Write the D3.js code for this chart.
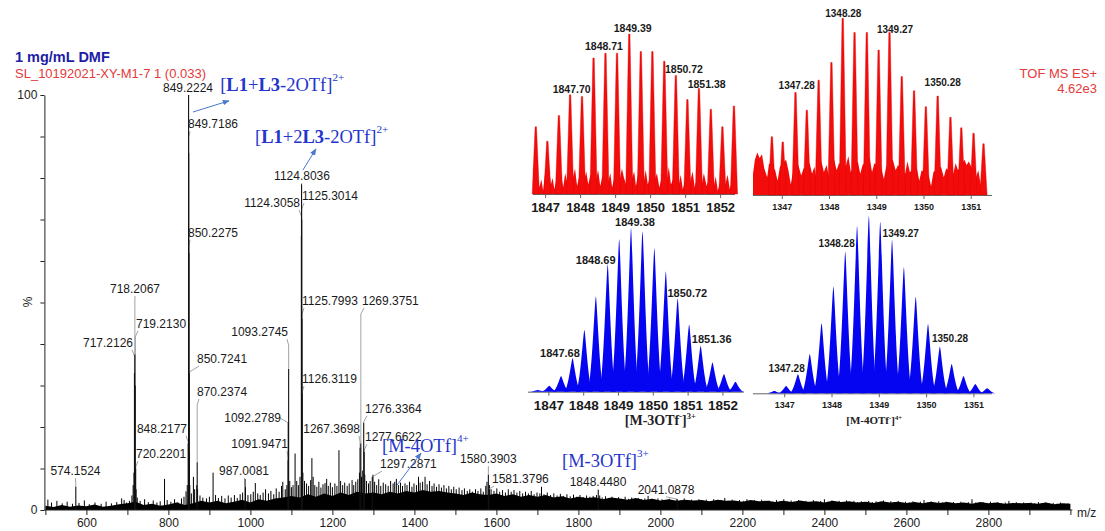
<!DOCTYPE html>
<html>
<head>
<meta charset="utf-8">
<script src="https://cdn.jsdelivr.net/npm/d3@7"></script>
<style>
  body { margin: 0; background: #fff; }
</style>
</head>
<body>
<svg id="chart" width="1105" height="531"></svg>
<script>
// ---- main spectrum data ----
const xLabelTicks = [600, 800, 1000, 1200, 1400, 1600, 1800, 2000, 2200, 2400, 2600, 2800];

// labelled peaks: m/z and relative intensity (%)
const peakMz = [574.1524, 717.2126, 718.2067, 719.2130, 720.2201, 848.2177, 849.2224, 849.7186, 850.2275,
  850.7241, 870.2374, 987.0081, 1091.9471, 1092.2789, 1093.2745, 1124.3058, 1124.8036, 1125.3014,
  1125.7993, 1126.3119, 1267.3698, 1269.3751, 1276.3364, 1277.6622, 1297.2871, 1580.3903, 1581.3796,
  1848.4480, 2041.0878];
const peakPct = [5.6, 33, 37.5, 30, 10, 16, 100, 86, 62, 33, 11.5, 7.5, 12, 21, 34, 66, 78.5, 70,
  46, 28, 15, 16, 21, 14, 8, 8.5, 5, 4.8, 2.6];

// unlabelled peaks [m/z, %]
const noisePeaks = [
  [506,2.5],[515,1.8],[528,2.2],[541,1.6],[553,2.0],[566,1.5],[582,1.7],[595,2.3],[607,1.4],[621,1.8],
  [636,1.5],[648,2.0],[661,1.6],[674,1.9],[686,2.8],[692,2.4],[698,1.8],[705,2.2],[711,3.5],[714,6],
  [716,9],[721.2,5],[724,3],[731,2.2],[742,2.6],[751,1.9],[763,2.3],[772,1.8],[780,2.1],[790.6,7.5],
  [797,2.4],[806,2],[815,2.6],[823,1.9],[832,2.8],[838,3.2],[843,4.5],[846,6],[851.2,14],[852.2,6],
  [856,4],[861,8],[864,5],[869.2,6],[871.2,5],[877,3.5],[884,3],[893,2.8],[900,3.2],[909,9],
  [915,3.6],[922,2.9],[930,3.4],[938,2.8],[946,3.5],[953,3],[961,3.6],[968,2.9],[975,3.8],[981,4.2],
  [988,5.5],[994,3.6],[1001,3.8],[1007,4.4],[1012,6.5],[1018,4],[1024,3.6],[1031,4.2],[1037,5],[1044,4],
  [1050,4.6],[1057,3.8],[1063,5.2],[1070,4.4],[1076,5.8],[1079,6.8],[1085,5],[1089,6],[1096,7],[1100,5.5],
  [1104,6],[1109,13.6],[1113,7],[1117,6],[1121,8],[1128,9],[1132,7],[1137,6.4],[1142,5.8],[1147,7.2],
  [1150,12.5],[1153,8],[1157,6],[1162,5.6],[1167,6.8],[1172,5.4],[1177,6.2],[1182,6.5],[1186,7.5],[1190,5.8],
  [1195,6.6],[1200,5.5],[1206,6.4],[1211,5.8],[1216,14.4],[1220,7],[1225,6],[1230,6.6],[1236,5.8],[1241,6.4],
  [1248,7.2],[1252,6],[1257,6.8],[1262,7.4],[1266,9],[1271,8],[1274,9.5],[1279,8.5],[1283,7],[1288,6.4],
  [1292,7],[1299,8.5],[1303,6.8],[1308,6],[1313,7.4],[1318,5.8],[1324,6.6],[1330,6.2],[1336,5.8],[1342,7],
  [1348,6.4],[1352,6.8],[1356,7.5],[1361,6],[1366,6.6],[1371,5.8],[1377,6.4],[1382,6],[1388,6.8],[1394,5.6],
  [1399,6.4],[1405,6],[1410,8],[1414,6.6],[1420,6.8],[1426,8],[1431,6.2],[1437,7],[1443,5.8],[1448,6.4],
  [1454,5.6],[1460,6.2],[1466,5.4],[1472,6],[1478,5.2],[1484,5.8],[1490,5],[1496,5.6],[1502,5],[1509,5.4],
  [1516,4.8],[1522,5.2],[1529,4.6],[1535,5],[1542,4.4],[1549,5],[1555,4.6],[1562,5.2],[1568,4.4],[1574,5.8],
  [1577,6.8],[1583,6],[1587,5],[1594,4.6],[1601,5.2],[1608,4.4],[1615,4.8],[1622,4.2],[1629,5],[1636,4.4],
  [1643,4.8],[1650,4.2],[1657,4.6],[1664,4],[1671,4.4],[1678,4],[1685,4.6],[1692,3.8],[1699,4.2],[1706,4],
  [1710,5.6],[1716,3.8],[1724,4.2],[1732,3.6],[1740,4],[1748,3.5],[1756,3.9],[1764,3.4],[1772,3.8],[1780,3.3],
  [1788,3.7],[1796,3.2],[1804,3.6],[1812,3.1],[1820,3.5],[1828,3.2],[1836,3.4],[1844,3.6],[1852,3.5],[1858,3],
  [1866,3.3],[1874,2.9],[1882,3.2],[1890,2.8],[1898,3.1],[1906,2.7],[1914,3.2],[1922,2.7],[1930,3],[1938,2.6],
  [1946,2.9],[1954,2.6],[1962,2.8],[1970,3.4],[1978,2.7],[1986,2.5],[1994,2.8],[2004,2.6],[2013,2.3],[2022,2.7],
  [2031,2.2],[2040,2.6],[2049,2.3],[2058,2.8],[2067,2.2],[2076,2.5],[2085,2.1],[2094,2.6],[2103,2.3],[2112,2.5],
  [2121,2.1],[2130,2.6],[2139,2.2],[2148,2.4],[2157,2.9],[2166,2.2],[2175,2.5],[2184,2.1],[2193,2.4],[2202,2.2],
  [2211,2.6],[2220,2.1],[2229,2.4],[2238,2.0],[2247,2.5],[2256,2.1],[2265,2.3],[2274,2.0],[2283,2.4],[2292,2.1],
  [2301,2.6],[2310,2.0],[2319,2.3],[2328,1.9],[2337,2.4],[2346,2.0],[2355,2.2],[2364,1.9],[2373,2.4],[2382,2.0],
  [2391,2.2],[2400,2.6],[2409,2.0],[2418,2.3],[2427,1.9],[2436,2.2],[2445,1.9],[2454,2.3],[2463,1.8],[2472,2.2],
  [2481,1.9],[2490,2.1],[2499,1.8],[2508,2.2],[2517,1.9],[2526,2.1],[2535,1.8],[2544,2.3],[2553,1.8],[2562,2.1],
  [2571,1.9],[2580,2.2],[2589,1.7],[2598,2.0],[2607,1.8],[2616,2.1],[2625,1.7],[2634,2.0],[2643,2.4],[2652,1.8],
  [2661,2.0],[2670,1.7],[2679,2.1],[2688,1.8],[2697,2.0],[2706,1.7],[2715,1.9],[2724,1.7],[2733,2.0],[2742,1.6],
  [2751,1.9],[2760,2.6],[2769,1.8],[2778,1.6],[2787,1.9],[2796,1.7],[2805,2.0],[2814,1.6],[2823,1.9],[2832,1.6],
  [2841,1.8],[2850,2.2],[2859,1.7],[2868,1.9],[2877,1.6],[2886,1.8],[2895,1.5],[2904,1.8],[2913,1.6],[2922,1.9],
  [2931,1.5],[2940,1.8],[2949,1.6],[2958,1.7],[2967,1.5],[2976,1.8],[2985,1.5],[2994,1.6]
];

// baseline "grass" level, read every 20 m/z from 500 to 3000 (%)
const bandPct = [
  1.0,0.7,1.2,0.8,1.1,0.9,1.3,0.8,1.0,1.4,
  1.6,2.0,1.2,1.5,1.0,1.3,1.8,1.2,1.6,2.2,
  1.8,2.2,1.6,2.0,2.5,1.8,2.6,2.2,2.8,3.0,
  3.4,3.0,3.8,3.2,4.0,3.4,4.2,3.6,4.4,4.0,
  4.2,3.8,4.4,4.0,4.6,4.2,4.8,4.4,4.6,4.2,
  4.0,3.6,4.2,3.8,3.6,4.0,3.4,3.8,3.2,3.6,
  3.2,3.6,3.0,3.3,2.8,3.2,2.9,3.1,2.6,3.0,
  2.8,2.5,2.9,2.4,2.7,2.3,2.6,2.2,2.5,2.3,
  2.4,2.1,2.5,2.2,2.3,2.0,2.4,2.1,2.2,1.9,
  2.2,1.9,2.3,2.0,2.1,1.8,2.2,1.9,2.1,1.8,
  2.0,1.7,2.1,1.8,2.0,1.7,1.9,1.6,2.0,1.7,
  1.9,1.6,1.8,1.5,1.9,1.6,1.8,1.5,1.7,1.6,
  1.7,1.5,1.8,1.4,1.6,1.5
];
const bandMz = d3.range(500, 3001, 20);

// ---- inset data ----
// experimental [M-3OTf]3+ (red)
const red3Mz = [1846.72,1847.05,1847.38,1847.70,1848.04,1848.37,1848.71,1849.04,1849.39,1849.72,1850.05,1850.39,1850.72,1851.05,1851.38,1851.72,1852.05,1852.38];
const red3Pct = [42,33,49,62,61,85,88,88,100,89,89,83,74,59,66,53,42,55];
const red3Floor = [[1846.64,20],[1846.68,8],[1846.76,14],[1846.82,4],[1846.88,9],[1846.93,2],[1846.98,12],[1847.02,18],
  [1847.1,17],[1847.15,6],[1847.2,10],[1847.25,3],[1847.31,9],[1847.45,12],[1847.5,4],[1847.56,13],[1847.62,7],
  [1847.78,10],[1847.84,16],[1847.9,5],[1847.96,11],[1848.1,8],[1848.16,14],[1848.22,6],[1848.28,12],[1848.44,9],
  [1848.5,15],[1848.56,5],[1848.62,11],[1848.78,7],[1848.85,13],[1848.9,4],[1848.96,10],[1849.11,8],[1849.18,16],
  [1849.24,10],[1849.3,6],[1849.46,9],[1849.53,14],[1849.58,5],[1849.64,12],[1849.8,7],[1849.86,15],[1849.92,6],
  [1849.98,11],[1850.12,9],[1850.18,13],[1850.25,4],[1850.31,10],[1850.46,8],[1850.52,17],[1850.58,6],[1850.64,9],
  [1850.8,5],[1850.86,12],[1850.92,3],[1850.98,8],[1851.12,7],[1851.2,14],[1851.26,4],[1851.31,9],[1851.46,6],
  [1851.52,13],[1851.6,5],[1851.65,8],[1851.8,4],[1851.86,11],[1851.92,2],[1851.98,7],[1852.12,5],[1852.2,12],
  [1852.26,3],[1852.32,8],[1852.41,10]];
const red3Labels = ["1847.70", "1848.71", "1849.39", "1850.72", "1851.38"];
const red3LabelAt = [[1847.745,63.1],[1848.668,90],[1849.488,101.3],[1850.953,75.6],[1851.601,66.3]];

// experimental [M-4OTf]4+ (red)
const red4Mz = [1346.78,1347.01,1347.28,1347.52,1347.77,1348.04,1348.28,1348.53,1348.79,1349.04,1349.27,1349.53,1349.79,1350.04,1350.29,1350.56,1350.79,1351.05,1351.26];
const red4Pct = [33,30,58,48,65,75,100,92,92,82,92,67,59,50,56,44,38,35,29];
const red4Floor = [[1346.38,12],[1346.42,20],[1346.47,24],[1346.52,21],[1346.57,23],[1346.62,15],[1346.68,10],
  [1346.72,18],[1346.85,14],[1346.9,8],[1346.95,16],[1347.08,20],[1347.13,14],[1347.18,6],[1347.22,12],[1347.34,17],
  [1347.4,11],[1347.45,15],[1347.58,18],[1347.63,12],[1347.68,16],[1347.72,10],[1347.83,19],[1347.88,13],
  [1347.94,17],[1347.98,11],[1348.1,20],[1348.15,14],[1348.2,18],[1348.34,16],[1348.4,22],[1348.45,13],
  [1348.6,19],[1348.65,12],[1348.7,17],[1348.85,21],[1348.9,13],[1348.95,18],[1349.1,15],[1349.15,9],[1349.2,16],
  [1349.34,20],[1349.4,14],[1349.45,17],[1349.6,12],[1349.65,19],[1349.7,13],[1349.85,15],[1349.9,8],[1349.95,14],
  [1350.1,11],[1350.15,5],[1350.2,13],[1350.36,16],[1350.42,10],[1350.47,15],[1350.62,12],[1350.67,18],
  [1350.72,14],[1350.86,20],[1350.9,17],[1350.95,19],[1351.1,10],[1351.15,14],[1351.2,6],[1351.27,3],[1351.29,0]];
const red4Labels = ["1347.28", "1348.28", "1349.27", "1350.28"];
const red4LabelAt = [[1347.305,60],[1348.292,100.9],[1349.387,91.7],[1350.396,61.7]];

// simulated [M-3OTf]3+ (blue)
const blue3Mz = [1846.68,1847.01,1847.35,1847.68,1848.02,1848.35,1848.69,1849.02,1849.36,1849.69,1850.03,1850.36,1850.70,1851.03,1851.36,1851.70,1852.03,1852.36];
const blue3Pct = [1,3.7,9.6,20.4,37.8,58.2,78,93.3,100,98,87.8,73.5,57.1,41.2,28,17.8,10.8,6.1];
const blue3Labels = ["1847.68", "1848.69", "1849.38", "1850.72", "1851.36"];
const blue3LabelAt = [[1847.319,21.4],[1848.345,78.2],[1849.474,101.6],[1850.977,57.8],[1851.678,29.6]];

// simulated [M-4OTf]4+ (blue)
const blue4Mz = [1346.78,1347.03,1347.28,1347.53,1347.78,1348.03,1348.28,1348.53,1348.78,1349.02,1349.27,1349.52,1349.77,1350.03,1350.28,1350.53,1350.78,1351.03,1351.28];
const blue4Pct = [1.3,4.1,10.7,22.2,39.5,60.2,79.9,94.4,100,96.8,86.5,71.1,54.5,39.1,26.3,16.5,9.8,5.3,2.8];
const blue4Labels = ["1347.28", "1348.28", "1349.27", "1350.28"];
const blue4LabelAt = [[1347.042,12.2],[1348.099,82.3],[1349.452,88],[1350.494,28.8]];

const inset3Ticks = [1847, 1848, 1849, 1850, 1851, 1852];
const inset4Ticks = [1347, 1348, 1349, 1350, 1351];

// ---- layout (label anchors in data units, kept apart from data) ----
const labelLayout = [
  [573.4, 8.4, "middle"], [713.7, 39.3, "end"], [718.5, 52.3, "middle"], [721.0, 43.9, "start"],
  [721.0, 12.5, "start"], [845.4, 18.6, "end"], [847.8, 100.7, "middle"], [847.8, 92.0, "start"],
  [847.8, 65.8, "start"], [869.8, 35.4, "start"], [869.8, 27.5, "start"], [984.4, 8.4, "middle"],
  [1091.7, 14.9, "end"], [1074.6, 21.2, "end"], [1091.7, 41.9, "end"], [1121.0, 73.0, "end"],
  [1125.9, 79.5, "middle"], [1125.9, 74.7, "start"], [1125.9, 49.4, "start"], [1125.9, 30.6, "start"],
  [1267.3, 18.6, "end"], [1272.2, 49.4, "start"], [1279.5, 23.4, "start"], [1279.5, 16.6, "start"],
  [1316.1, 10.1, "start"], [1580.4, 11.3, "middle"], [1589.3, 6.5, "start"], [1847.8, 5.8, "middle"],
  [2013.7, 3.9, "middle"]
];

const sans = 'Arial, "Liberation Sans", sans-serif';
const serif = '"Times New Roman", "Liberation Serif", serif';
const annBlue = "#2434cc";
const arrowBlue = "#4a78cc";

const svg = d3.select("#chart");
svg.append("rect").attr("width", 1105).attr("height", 531).attr("fill", "#fff");

svg.append("defs").append("marker")
  .attr("id", "arrow").attr("viewBox", "0 0 10 10").attr("refX", 9).attr("refY", 5)
  .attr("markerWidth", 7).attr("markerHeight", 7).attr("orient", "auto-start-reverse")
  .append("path").attr("d", "M0,1L10,5L0,9Z").attr("fill", arrowBlue);

// ---- main scales ----
const x = d3.scaleLinear().domain([500, 3000]).range([45.4, 1070.4]);
const y = d3.scaleLinear().domain([0, 100]).range([510, 95]);

// baseline grass
svg.append("path")
  .datum(bandPct)
  .attr("d", d3.area().x((d, i) => x(bandMz[i])).y0(y(0)).y1(d => y(d)))
  .attr("fill", "#000");

svg.append("g").selectAll("line")
  .data(noisePeaks)
  .join("line")
  .attr("x1", d => x(d[0])).attr("x2", d => x(d[0]))
  .attr("y1", y(0)).attr("y2", d => y(d[1]))
  .attr("stroke", "#000").attr("stroke-width", 1);

// labelled peaks, leaders and labels
const peaks = d3.zip(peakMz, peakPct, labelLayout);
const peakG = svg.append("g");

peaks.forEach(([mz, pct, lay]) => {
  const [ax, ay, anchor] = lay;
  const px = x(mz), top = y(pct), lx = x(ax), ly = y(ay);
  const sx = anchor === "start" ? lx + 2 : anchor === "end" ? lx - 1 : lx;
  let pts = null;
  if (ly + 9 < top) pts = [[sx, ly + 3], [px, ly + 9], [px, top]];
  else if (ly + 3 < top) pts = [[sx, ly + 3], [px, top]];
  else if (anchor !== "middle") pts = [[sx, ly - 4], [px, top]];
  if (pts) {
    peakG.append("path")
      .attr("d", d3.line()(pts))
      .attr("fill", "none").attr("stroke", "#8a8a8a").attr("stroke-width", 0.8);
  }
});

peakG.selectAll("line.stick")
  .data(peaks)
  .join("line")
  .attr("class", "stick")
  .attr("x1", d => x(d[0])).attr("x2", d => x(d[0]))
  .attr("y1", y(0)).attr("y2", d => y(d[1]))
  .attr("stroke", "#111").attr("stroke-width", 1.1);

peakG.selectAll("text")
  .data(peaks)
  .join("text")
  .attr("x", d => x(d[2][0])).attr("y", d => y(d[2][1]))
  .attr("text-anchor", d => d[2][2])
  .style("font-family", sans).style("font-size", "12px").attr("fill", "#1a1a1a")
  .text(d => d[0].toFixed(4));

// ---- axes ----
const xAxis = d3.axisBottom(x)
  .tickValues(d3.range(500, 3001, 100))
  .tickSize(5).tickSizeOuter(0)
  .tickFormat(d => xLabelTicks.includes(d) ? d : "");
const gx = svg.append("g").attr("transform", `translate(0,${y(0)})`).call(xAxis);
gx.selectAll("text").style("font-family", sans).style("font-size", "12px").attr("fill", "#222");
gx.selectAll("line, path").attr("stroke", "#222");
gx.select(".domain").attr("d", `M${x(500) - 1},0H${x(3000) + 2}`);

const yAxis = d3.axisLeft(y)
  .tickValues(d3.range(0, 101, 10))
  .tickSize(4).tickSizeOuter(0)
  .tickFormat(d => (d === 0 || d === 100) ? d : "");
const gy = svg.append("g").attr("transform", `translate(${x(500) - 1},0)`).call(yAxis);
gy.selectAll("text").style("font-family", sans).style("font-size", "12px").attr("fill", "#222");
gy.selectAll("line, path").attr("stroke", "#222");

svg.append("text").attr("x", 1077).attr("y", 517)
  .style("font-family", sans).style("font-size", "12px").attr("fill", "#222").text("m/z");
svg.append("text").attr("transform", "translate(32,302) rotate(-90)").attr("text-anchor", "middle")
  .style("font-family", sans).style("font-size", "12px").attr("fill", "#222").text("%");

// ---- header texts ----
svg.append("text").attr("x", 15).attr("y", 62)
  .style("font-family", sans).style("font-size", "14.5px").style("font-weight", "bold")
  .attr("fill", "#1d1da6").text("1 mg/mL DMF");
svg.append("text").attr("x", 15).attr("y", 78)
  .style("font-family", sans).style("font-size", "13px").attr("fill", "#e4393a")
  .text("SL_10192021-XY-M1-7 1 (0.033)");
svg.append("text").attr("x", 1097).attr("y", 78).attr("text-anchor", "end")
  .style("font-family", sans).style("font-size", "13px").attr("fill", "#e4393a").text("TOF MS ES+");
svg.append("text").attr("x", 1097).attr("y", 93).attr("text-anchor", "end")
  .style("font-family", sans).style("font-size", "13px").attr("fill", "#e4393a").text("4.62e3");

// rich text helper: parts = [text, bold, superscript]
function richText(g, px, py, parts, size, color, anchor, rise) {
  const lift = (rise || 0.55) * size;
  const t = g.append("text").attr("x", px).attr("y", py)
    .attr("text-anchor", anchor || "start")
    .style("font-family", serif).style("font-size", size + "px").attr("fill", color);
  let raised = false;
  parts.forEach(([s, bold, sup]) => {
    const span = t.append("tspan").text(s).style("font-weight", bold ? "bold" : "normal");
    if (sup && !raised) { span.attr("dy", -lift).style("font-size", (size * 0.6) + "px"); raised = true; }
    else if (sup) { span.style("font-size", (size * 0.6) + "px"); }
    else if (raised) { span.attr("dy", lift); raised = false; }
  });
  return t;
}

// ---- blue annotations on the main spectrum ----
const annG = svg.append("g");
richText(annG, x(926.3), y(101), [["[", 0], ["L1", 1], ["+", 0], ["L3", 1], ["-2OTf]", 0], ["2+", 0, 1]], 18.5, annBlue);
richText(annG, x(1011.2), y(88.4), [["[", 0], ["L1", 1], ["+2", 0], ["L3", 1], ["-2OTf]", 0], ["2+", 0, 1]], 18.5, annBlue);
richText(annG, x(1320.9), y(14.0), [["[M-4OTf]", 0], ["4+", 0, 1]], 18.5, annBlue);
richText(annG, x(1760), y(10.4), [["[M-3OTf]", 0], ["3+", 0, 1]], 18.5, annBlue);

const arrows = [
  [[860, 95.9], [947.8, 98.6]],
  [[1128, 81.9], [1159.9, 87.0]],
  [[1357.6, 6.0], [1416.1, 13.7]]
];
annG.selectAll("line.arrow")
  .data(arrows)
  .join("line")
  .attr("class", "arrow")
  .attr("x1", d => x(d[0][0])).attr("y1", d => y(d[0][1]))
  .attr("x2", d => x(d[1][0])).attr("y2", d => y(d[1][1]))
  .attr("stroke", arrowBlue).attr("stroke-width", 1)
  .attr("marker-end", "url(#arrow)");

// ---- insets ----
function makeInset(domain, range, base, top, ticks, tickSize, tickY) {
  const xs = d3.scaleLinear().domain(domain).range(range);
  const ys = d3.scaleLinear().domain([0, 100]).range([base, top]);
  const g = svg.append("g");
  g.append("line")
    .attr("x1", range[0]).attr("x2", range[1]).attr("y1", base + 0.5).attr("y2", base + 0.5)
    .attr("stroke", "#666").attr("stroke-width", 1);
  g.selectAll("line.tick")
    .data(ticks)
    .join("line")
    .attr("class", "tick")
    .attr("x1", d => xs(d)).attr("x2", d => xs(d))
    .attr("y1", base).attr("y2", base + 4)
    .attr("stroke", "#666");
  g.selectAll("text.tick")
    .data(ticks)
    .join("text")
    .attr("class", "tick")
    .attr("x", d => xs(d)).attr("y", tickY)
    .attr("text-anchor", "middle")
    .style("font-family", sans).style("font-size", tickSize + "px").style("font-weight", "bold")
    .attr("fill", "#1a1a1a")
    .text(d => d);
  return { xs, ys, g };
}

function drawRed(inset, mzs, pcts, floor, halfWidth) {
  const { xs, ys, g } = inset;
  g.append("path")
    .datum(floor)
    .attr("d", d3.area().x(d => xs(d[0])).y0(ys(0)).y1(d => ys(d[1])))
    .attr("fill", "#f20c0c");
  g.selectAll("path.spike")
    .data(d3.zip(mzs, pcts))
    .join("path")
    .attr("class", "spike")
    .attr("d", d => {
      const cx = xs(d[0]), b = ys(0), t = ys(d[1]);
      return `M${cx - halfWidth},${b}L${cx - 0.7},${t}L${cx + 0.7},${t}L${cx + halfWidth},${b}Z`;
    })
    .attr("fill", "#f20c0c").attr("stroke", "#e00000").attr("stroke-width", 0.4);
}

function drawBlue(inset, mzs, pcts, w) {
  const { xs, ys, g } = inset;
  g.selectAll("path.bell")
    .data(d3.zip(mzs, pcts))
    .join("path")
    .attr("class", "bell")
    .attr("d", d => {
      const cx = xs(d[0]), b = ys(0), t = ys(d[1]);
      return `M${cx - w},${b}C${cx - 0.5 * w},${b} ${cx - 0.12 * w},${t} ${cx},${t}` +
        `C${cx + 0.12 * w},${t} ${cx + 0.5 * w},${b} ${cx + w},${b}Z`;
    })
    .attr("fill", "#0505f2");
}

function peakLabels(inset, labels, at, size) {
  const { xs, ys, g } = inset;
  g.selectAll("text.peak")
    .data(d3.zip(labels, at))
    .join("text")
    .attr("class", "peak")
    .attr("x", d => xs(d[1][0])).attr("y", d => ys(d[1][1]))
    .attr("text-anchor", "middle")
    .style("font-family", sans).style("font-size", size + "px").style("font-weight", "bold")
    .attr("fill", "#1a1a1a")
    .text(d => d[0]);
}

// top-left: experimental 3+
const insetA = makeInset([1846.64, 1852.41], [533, 735], 194, 34, inset3Ticks, 13, 212);
drawRed(insetA, red3Mz, red3Pct, red3Floor, 3.6);
peakLabels(insetA, red3Labels, red3LabelAt, 10.5);

// top-right: experimental 4+
const insetB = makeInset([1346.38, 1351.44], [753, 992], 195, 18.3, inset4Ticks, 9, 210);
drawRed(insetB, red4Mz, red4Pct, red4Floor, 3.6);
peakLabels(insetB, red4Labels, red4LabelAt, 10);

// bottom-left: simulated 3+
const insetC = makeInset([1846.4, 1852.6], [528, 743.8], 391.7, 228.3, inset3Ticks, 13.5, 410);
drawBlue(insetC, blue3Mz, blue3Pct, 8.8);
peakLabels(insetC, blue3Labels, blue3LabelAt, 11);
richText(insetC.g, insetC.xs(1850.2), 425, [["[M-3OTf", 1], ["-", 1, 1], ["]", 1], ["3+", 1, 1]], 14, "#222", "middle", 0.4);

// bottom-right: simulated 4+
const insetD = makeInset([1346.33, 1351.38], [753, 991.9], 393.3, 216, inset4Ticks, 9, 408);
drawBlue(insetD, blue4Mz, blue4Pct, 8.8);
peakLabels(insetD, blue4Labels, blue4LabelAt, 10);
richText(insetD.g, insetD.xs(1348.89), 424, [["[M-4OTf", 1], ["-", 1, 1], ["]", 1], ["4+", 1, 1]], 11, "#222", "middle", 0.4);
</script>
</body>
</html>
